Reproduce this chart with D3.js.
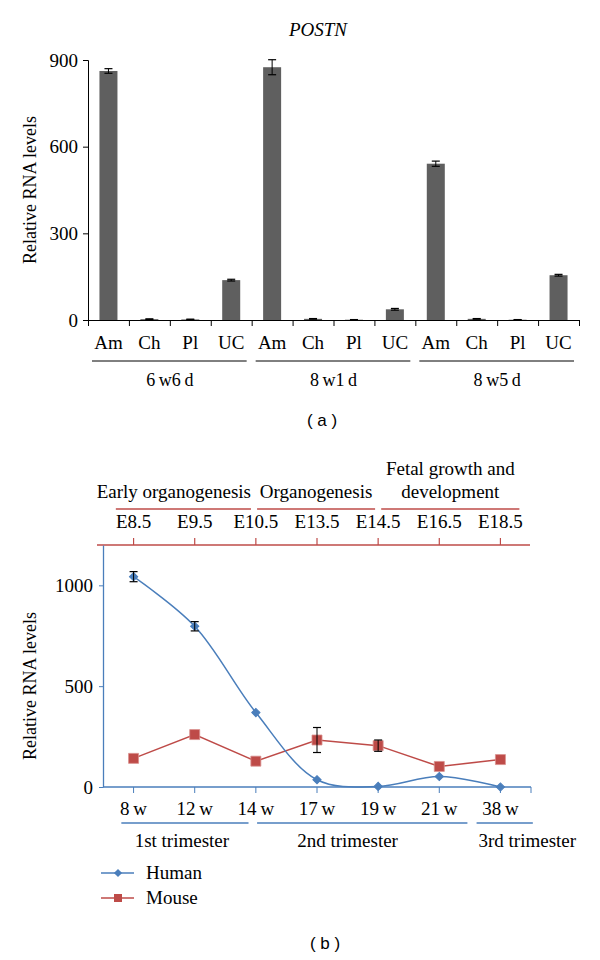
<!DOCTYPE html>
<html>
<head>
<meta charset="utf-8">
<script src="https://cdn.jsdelivr.net/npm/d3@7"></script>
<style>
  html, body { margin: 0; padding: 0; background: #fff; }
  svg { display: block; }
  svg text { font-family: "Liberation Serif", "Times New Roman", Times, serif !important; fill: #000; }
  svg text.sans { font-family: "Liberation Sans", Arial, sans-serif !important; }
</style>
</head>
<body>
<svg id="chart" width="600" height="960" font-family="Liberation Serif"></svg>
<script>
// ---------------- DATA ----------------
// Panel (a)
const title = "POSTN";
const tissues = ["Am", "Ch", "Pl", "UC"];
const stages = ["6\u2009w6\u2009d", "8\u2009w1\u2009d", "8\u2009w5\u2009d"];
const barValues = [862, 3, 2, 138, 875, 4, 1, 37, 541, 4, 1, 155];
const barErrors = [8, 1, 1, 3, 26, 1, 0.5, 3, 9, 1, 0.5, 3];
const ticksA = [0, 300, 600, 900];

// Panel (b)
const weeks = ["8\u2009w", "12\u2009w", "14\u2009w", "17\u2009w", "19\u2009w", "21\u2009w", "38\u2009w"];
const embryonic = ["E8.5", "E9.5", "E10.5", "E13.5", "E14.5", "E16.5", "E18.5"];
const human = [1043, 797, 369, 36, 3, 52, 0];
const humanErr = [25, 23, 0, 0, 0, 0, 0];
const mouse = [142, 260, 128, 233, 205, 102, 136];
const mouseErr = [0, 0, 0, 62, 28, 0, 0];
const ticksB = [0, 500, 1000];
const phases = [["Early organogenesis"], ["Organogenesis"], ["Fetal growth and", "development"]];
const trimesters = ["1st trimester", "2nd trimester", "3rd trimester"];
const seriesNames = ["Human", "Mouse"];

// ---------------- LAYOUT (positions in category-index units) ----------------
const phaseSpans = [[-0.29, 1.92], [2.02, 3.95], [4.05, 6.31]];
const trimesterSpans = [[-0.2, 1.88], [2.02, 5.46], [5.61, 6.53]];
const trimesterLabelAt = [0.79, 3.5, 6.44];

const BLUE = "#4A7EBB", RED = "#BE4B48", BAR = "#5F5F5F";
const FS = 19;

const svg = d3.select("#chart");
svg.append("rect").attr("width", 600).attr("height", 960).attr("fill", "#fff");

// ================= Panel (a) =================
const gA = svg.append("g");
const yA = d3.scaleLinear().domain([0, 900]).range([320, 60]);
const nA = barValues.length;
const xA = d3.scaleBand().domain(d3.range(nA)).range([88, 579]).paddingInner(0.56).paddingOuter(0.28);
const xAedge = d3.scaleLinear().domain([0, nA]).range([88, 579]);

gA.append("text").attr("x", 318).attr("y", 36).attr("text-anchor", "middle")
  .style("font-style", "italic").style("font-size", FS + "px").text(title);

// y axis
const yAxisA = gA.append("g").attr("transform", "translate(88,0)")
  .call(d3.axisLeft(yA).tickValues(ticksA).tickFormat(d3.format("d")).tickSize(5).tickPadding(5));
yAxisA.selectAll("text").style("font-size", FS + "px");
yAxisA.selectAll("path,line").attr("stroke", "#000");

// x axis (ticks at band edges)
const xAxisA = gA.append("g").attr("transform", "translate(0,320)")
  .call(d3.axisBottom(xAedge).tickValues(d3.range(nA + 1)).tickFormat("").tickSizeInner(6).tickSizeOuter(0));
xAxisA.selectAll("path,line").attr("stroke", "#000");

// bars
gA.selectAll("rect.bar").data(barValues).join("rect").attr("class", "bar")
  .attr("x", (d, i) => xA(i)).attr("width", xA.bandwidth())
  .attr("y", d => yA(d)).attr("height", d => yA(0) - yA(d))
  .attr("fill", BAR);

// error bars
const errA = gA.selectAll("g.err").data(barValues).join("g").attr("class", "err");
errA.each(function (d, i) {
  const e = barErrors[i], cx = xA(i) + xA.bandwidth() / 2, g = d3.select(this);
  g.append("line").attr("x1", cx).attr("x2", cx).attr("y1", yA(d + e)).attr("y2", yA(Math.max(0, d - e))).attr("stroke", "#000");
  [d + e, Math.max(0, d - e)].forEach(v => g.append("line").attr("x1", cx - 4).attr("x2", cx + 4).attr("y1", yA(v)).attr("y2", yA(v)).attr("stroke", "#000").attr("stroke-width", 1.2));
});

// category labels
gA.selectAll("text.cat").data(barValues).join("text").attr("class", "cat")
  .attr("x", (d, i) => xA(i) + xA.bandwidth() / 2).attr("y", 349)
  .attr("text-anchor", "middle").style("font-size", FS + "px")
  .text((d, i) => tissues[i % tissues.length]);

// group lines and labels
stages.forEach((s, g) => {
  const x0 = xAedge(g * 4), x1 = xAedge(g * 4 + 4);
  gA.append("line").attr("x1", x0 + 4).attr("x2", x1 - 5).attr("y1", 361).attr("y2", 361).attr("stroke", "#000");
  gA.append("text").attr("x", (x0 + x1) / 2).attr("y", 386).attr("text-anchor", "middle")
    .style("font-size", (FS - 1) + "px").text(s);
});

svg.append("text").attr("class", "sans").attr("x", 322).attr("y", 426).attr("text-anchor", "middle")
  .style("font-size", "17px").text("( a )");

// ================= Panel (b) =================
const gB = svg.append("g");
const yB = d3.scaleLinear().domain([0, 1200]).range([787, 545]);
const xB = d3.scaleBand().domain(d3.range(weeks.length)).range([103, 531]);
const cx = i => xB(i) + xB.bandwidth() / 2;
const step = xB.step();
const ix = v => cx(0) + v * step;

// Top (red) axis with embryonic days
gB.append("line").attr("x1", 97).attr("x2", 530).attr("y1", 545).attr("y2", 545).attr("stroke", RED).attr("stroke-width", 1.5);
embryonic.forEach((e, i) => {
  gB.append("line").attr("x1", cx(i)).attr("x2", cx(i)).attr("y1", 545).attr("y2", 538).attr("stroke", RED).attr("stroke-width", 1.2);
  gB.append("text").attr("x", cx(i)).attr("y", 528).attr("text-anchor", "middle").style("font-size", FS + "px").text(e);
});
phases.forEach((lines, g) => {
  const [a, b] = phaseSpans[g];
  const x0 = ix(a), x1 = ix(b);
  gB.append("line").attr("x1", x0).attr("x2", x1).attr("y1", 509).attr("y2", 509).attr("stroke", RED).attr("stroke-width", 1.3);
  lines.forEach((t, k) => {
    const txt = gB.append("text").attr("y", 498 - (lines.length - 1 - k) * 23).attr("text-anchor", "middle")
      .style("font-size", FS + "px").text(t);
    const w = txt.node().getComputedTextLength();
    let c = (x0 + x1) / 2;
    if (c + w / 2 > x1) c = x1 - w / 2;
    txt.attr("x", c);
  });
});

// y axis (blue)
const yAxisB = gB.append("g").attr("transform", "translate(103,0)")
  .call(d3.axisLeft(yB).tickValues(ticksB).tickFormat(d3.format("d")).tickSize(4).tickPadding(6).tickSizeOuter(0));
yAxisB.selectAll("text").style("font-size", FS + "px");
yAxisB.selectAll("line").attr("stroke", BLUE);
yAxisB.select("path").attr("stroke", BLUE).attr("stroke-width", 1.3);

// x axis (blue) at zero
gB.append("line").attr("x1", 103).attr("x2", 531).attr("y1", 787).attr("y2", 787).attr("stroke", BLUE).attr("stroke-width", 1.3);
d3.range(weeks.length).forEach(i => {
  gB.append("line").attr("x1", cx(i)).attr("x2", cx(i)).attr("y1", 787).attr("y2", 793).attr("stroke", BLUE);
  gB.append("text").attr("x", cx(i)).attr("y", 815).attr("text-anchor", "middle").style("font-size", FS + "px").text(weeks[i]);
});
gB.append("line").attr("x1", 531).attr("x2", 531).attr("y1", 787).attr("y2", 793).attr("stroke", BLUE);

// trimester lines and labels
trimesters.forEach((t, g) => {
  const [a, b] = trimesterSpans[g];
  gB.append("line").attr("x1", ix(a)).attr("x2", ix(b)).attr("y1", 823).attr("y2", 823).attr("stroke", BLUE).attr("stroke-width", 1.3);
  gB.append("text").attr("x", ix(trimesterLabelAt[g])).attr("y", 847).attr("text-anchor", "middle").style("font-size", FS + "px").text(t);
});

// axis titles
[190, 686].forEach(cy => {
  svg.append("text").attr("transform", `translate(36,${cy}) rotate(-90)`).attr("text-anchor", "middle")
    .style("font-size", "18px").text("Relative RNA levels");
});

// Mouse line
const lineM = d3.line().x((d, i) => cx(i)).y(d => yB(d));
gB.append("path").attr("d", lineM(mouse)).attr("fill", "none").attr("stroke", RED).attr("stroke-width", 1.5);
// Human smooth line
const lineH = d3.line().x((d, i) => cx(i)).y(d => yB(d)).curve(d3.curveCatmullRom.alpha(0.5));
gB.append("path").attr("d", lineH(human)).attr("fill", "none").attr("stroke", BLUE).attr("stroke-width", 1.5);

// Error bars
function errB(vals, errs) {
  vals.forEach((v, i) => {
    const e = errs[i];
    if (!e) return;
    const x = cx(i);
    gB.append("line").attr("x1", x).attr("x2", x).attr("y1", yB(v + e)).attr("y2", yB(v - e)).attr("stroke", "#000");
    [v + e, v - e].forEach(u => gB.append("line").attr("x1", x - 4).attr("x2", x + 4).attr("y1", yB(u)).attr("y2", yB(u)).attr("stroke", "#000").attr("stroke-width", 1.2));
  });
}

// Markers
const diamond = d3.symbol().type(d3.symbolSquare).size(34);
const square = d3.symbol().type(d3.symbolSquare).size(100);
gB.selectAll("path.m").data(mouse).join("path").attr("class", "m")
  .attr("d", square).attr("transform", (d, i) => `translate(${cx(i)},${yB(d)})`)
  .attr("fill", RED).attr("stroke", "#D9908E").attr("stroke-width", 0.8);
errB(mouse, mouseErr);
gB.selectAll("path.h").data(human).join("path").attr("class", "h")
  .attr("d", diamond).attr("transform", (d, i) => `translate(${cx(i)},${yB(d)}) rotate(45)`)
  .attr("fill", BLUE).attr("stroke", BLUE);
errB(human, humanErr);

// Legend
const leg = svg.append("g");
seriesNames.forEach((n, k) => {
  const y = 873 + k * 25, col = k === 0 ? BLUE : RED;
  leg.append("line").attr("x1", 101).attr("x2", 134).attr("y1", y).attr("y2", y).attr("stroke", col).attr("stroke-width", 1.5);
  leg.append("path").attr("d", k === 0 ? diamond : d3.symbol().type(d3.symbolSquare).size(64))
    .attr("transform", `translate(118,${y})` + (k === 0 ? " rotate(45)" : "")).attr("fill", col);
  leg.append("text").attr("x", 146).attr("y", y + 6).style("font-size", FS + "px").text(n);
});

svg.append("text").attr("class", "sans").attr("x", 325).attr("y", 949).attr("text-anchor", "middle")
  .style("font-size", "17px").text("( b )");
</script>
</body>
</html>
